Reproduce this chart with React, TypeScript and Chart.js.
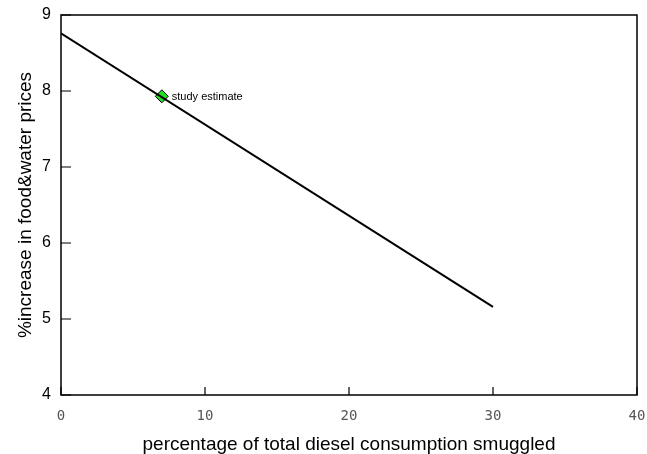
import React, { useEffect, useRef } from "react";
import { Chart, registerables } from "chart.js";

Chart.register(...registerables);

const lineX = [0, 30];
const lineY = [8.76, 5.16];
const estimateX = [7];
const estimateY = [7.93];
const estimateLabels = ["study estimate"];
const xTickValues = [0, 10, 20, 30, 40];
const yTickValues = [4, 5, 6, 7, 8, 9];
const xTitle = "percentage of total diesel consumption smuggled";
const yTitle = "%increase in food&water prices";

const framePlugin = {
  id: "frameAndTicks",
  afterDatasetsDraw(chart: any) {
    const { ctx, chartArea, scales } = chart;
    const { left, right, top, bottom } = chartArea;
    ctx.save();
    ctx.strokeStyle = "#000";
    ctx.lineWidth = 1.5;
    ctx.strokeRect(left, top, right - left, bottom - top);
    ctx.lineWidth = 1.2;
    ctx.beginPath();
    for (const v of yTickValues) {
      const py = scales.y.getPixelForValue(v);
      ctx.moveTo(left, py);
      ctx.lineTo(left + 10, py);
    }
    for (const v of xTickValues) {
      const px = scales.x.getPixelForValue(v);
      ctx.moveTo(px, bottom);
      ctx.lineTo(px, bottom - 8);
    }
    ctx.stroke();
    const meta = chart.getDatasetMeta(1);
    ctx.fillStyle = "#000";
    ctx.font = "11px 'Liberation Sans', Arial, sans-serif";
    ctx.textAlign = "left";
    ctx.textBaseline = "middle";
    meta.data.forEach((pt: any, i: number) => {
      ctx.fillText(estimateLabels[i], pt.x + 10, pt.y + 0.5);
    });
    ctx.restore();
  },
};

export default function App() {
  const ref = useRef<HTMLCanvasElement>(null);
  useEffect(() => {
    document.body.style.margin = "0";
    const chart = new Chart(ref.current!, {
      type: "scatter",
      data: {
        datasets: [
          {
            data: lineX.map((x, i) => ({ x, y: lineY[i] })),
            showLine: true,
            borderColor: "#000",
            borderWidth: 2,
            pointRadius: 0,
          },
          {
            data: estimateX.map((x, i) => ({ x, y: estimateY[i] })),
            pointStyle: "rectRot",
            pointRadius: 6.5,
            backgroundColor: "#22dd22",
            borderColor: "#000",
            borderWidth: 1,
          },
        ],
      },
      options: {
        responsive: false,
        animation: false,
        layout: { padding: { top: 15, right: 0, left: 0, bottom: 0 } },
        plugins: { legend: { display: false }, tooltip: { enabled: false } },
        scales: {
          x: {
            type: "linear",
            min: 0,
            max: 40,
            afterBuildTicks: (s: any) => {
              s.ticks = xTickValues.map((v) => ({ value: v }));
            },
            afterFit: (s: any) => {
              s.height = 59;
              s.paddingRight = 10;
              s.paddingLeft = 0;
            },
            grid: { display: false },
            border: { display: false },
            ticks: {
              padding: 5,
              color: "#555",
              font: { family: "'DejaVu Sans Mono', monospace", size: 14 },
              maxRotation: 0,
            },
            title: {
              display: true,
              text: xTitle,
              color: "#000",
              font: { family: "'Liberation Sans', Arial, sans-serif", size: 19, lineHeight: 1 },
              padding: { top: 0, bottom: 0 },
            },
          },
          y: {
            type: "linear",
            min: 4,
            max: 9,
            afterBuildTicks: (s: any) => {
              s.ticks = yTickValues.map((v) => ({ value: v }));
            },
            afterFit: (s: any) => {
              s.width = 61;
              s.paddingTop = 0;
              s.paddingBottom = 0;
            },
            grid: { display: false },
            border: { display: false },
            ticks: {
              padding: 2,
              color: "#000",
              font: { family: "'Liberation Sans', Arial, sans-serif", size: 16 },
            },
            title: {
              display: true,
              text: yTitle,
              color: "#000",
              font: { family: "'Liberation Sans', Arial, sans-serif", size: 19, lineHeight: 1 },
              padding: { top: 16, bottom: 0 },
            },
          },
        },
      },
      plugins: [framePlugin],
    });
    return () => chart.destroy();
  }, []);
  return (
    <div style={{ width: 647, height: 454 }}>
      <canvas ref={ref} width={647} height={454} style={{ display: "block" }} />
    </div>
  );
}
